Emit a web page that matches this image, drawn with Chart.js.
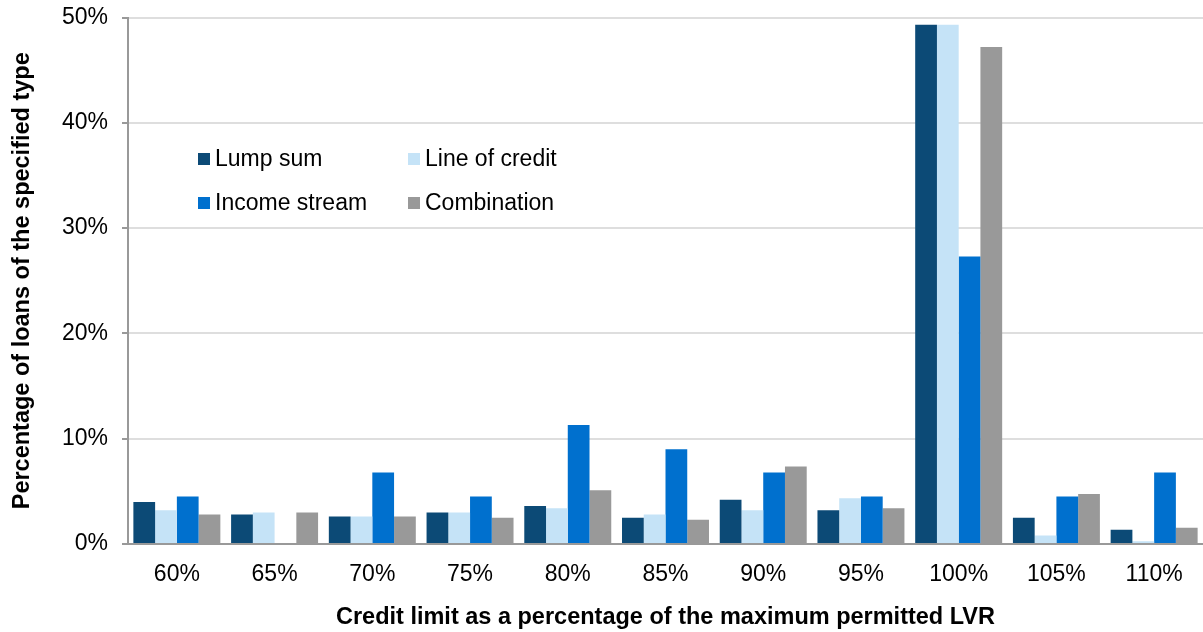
<!DOCTYPE html>
<html>
<head>
<meta charset="utf-8">
<script src="https://cdn.jsdelivr.net/npm/chart.js@4"></script>
<style>
  body { margin: 0; background: #fff; }
  #wrap { position: relative; width: 1203px; height: 632px; }
  #legend { position: absolute; left: 198px; top: 145px; font: 23px "Liberation Sans", Arial, sans-serif; color: #000; }
  .item { position: absolute; white-space: nowrap; line-height: 26px; }
  .item span { display: inline-block; width: 12px; height: 12px; margin-right: 5px; vertical-align: 1px; }
</style>
</head>
<body>
<div id="wrap">
  <canvas id="myChart" width="1203" height="632"></canvas>
  <div id="legend"></div>
</div>
<script>
// data (percent of loans)
var categories = ['60%', '65%', '70%', '75%', '80%', '85%', '90%', '95%', '100%', '105%', '110%'];
var lumpSum      = [4.0, 2.8, 2.6, 3.0, 3.6, 2.5, 4.2, 3.2, 49.3, 2.5, 1.35];
var lineOfCredit = [3.2, 3.0, 2.6, 3.0, 3.4, 2.8, 3.2, 4.35, 49.3, 0.8, 0.25];
var incomeStream = [4.5, 0,   6.8, 4.5, 11.3, 9.0, 6.8, 4.5, 27.3, 4.5, 6.8];
var combination  = [2.8, 3.0, 2.6, 2.5, 5.1, 2.3, 7.35, 3.4, 47.2, 4.75, 1.55];
var yTicks = [0, 10, 20, 30, 40, 50];

var seriesNames = ['Lump sum', 'Line of credit', 'Income stream', 'Combination'];
var seriesColors = ['#0c4a76', '#c5e3f7', '#0070ce', '#999999'];
var seriesData = [lumpSum, lineOfCredit, incomeStream, combination];

var font = "'Liberation Sans', Arial, sans-serif";

var ctx = document.getElementById('myChart').getContext('2d');
var chart = new Chart(ctx, {
    type: 'bar',
    data: {
        labels: categories,
        datasets: seriesData.map(function(d, i){
            return {
                label: seriesNames[i],
                data: d,
                backgroundColor: seriesColors[i],
                borderWidth: 0,
                categoryPercentage: 0.89,
                barPercentage: 1
            };
        })
    },
    options: {
        responsive: false,
        animation: false,
        layout: { padding: 0 },
        plugins: {
            legend: { display: false },
            tooltip: { enabled: false }
        },
        scales: {
            x: {
                grid: { display: false },
                border: { color: '#999', width: 2 },
                ticks: { color: '#000', font: { family: font, size: 23 }, padding: 9, maxRotation: 0 },
                title: {
                    display: true,
                    text: 'Credit limit as a percentage of the maximum permitted LVR',
                    color: '#000',
                    font: { family: font, size: 23.5, weight: 'bold' },
                    padding: { top: 12, bottom: 0 }
                },
                afterFit: function(scale){ scale.height = 88; }
            },
            y: {
                min: 0,
                max: 50,
                afterBuildTicks: function(scale){
                    scale.ticks = yTicks.map(function(v){ return { value: v }; });
                },
                grid: {
                    color: '#dedede',
                    lineWidth: 2,
                    tickLength: 6,
                    tickColor: '#999'
                },
                border: { color: '#999', width: 2 },
                ticks: {
                    color: '#000',
                    font: { family: font, size: 23 },
                    padding: 14,
                    callback: function(v){ return v + '%'; }
                },
                title: {
                    display: true,
                    text: 'Percentage of loans of the specified type',
                    color: '#000',
                    font: { family: font, size: 23.5, weight: 'bold' },
                    padding: { top: 8, bottom: 0 }
                },
                afterFit: function(scale){
                    scale.width = 128;
                    scale.paddingTop = 17.5; // plot top sits at 50% line
                    scale.paddingBottom = 0;
                }
            }
        }
    }
});

// legend, two columns inside the plot
var legend = document.getElementById('legend');
var pos = [[0, 0], [210, 0], [0, 44], [210, 44]];
seriesNames.forEach(function(name, i){
    var el = document.createElement('div');
    el.className = 'item';
    el.style.left = pos[i][0] + 'px';
    el.style.top = pos[i][1] + 'px';
    el.innerHTML = '<span style="background:' + seriesColors[i] + '"></span>' + name;
    legend.appendChild(el);
});
</script>
</body>
</html>
